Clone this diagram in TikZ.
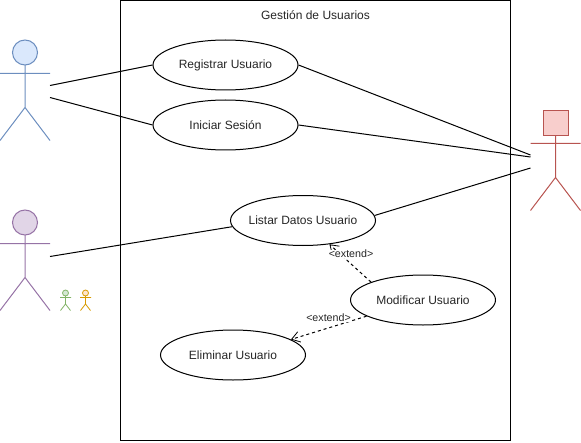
\documentclass[tikz,border=0pt]{standalone}
\usepackage{fontspec}
\setmainfont{Liberation Sans}
\usetikzlibrary{shapes.geometric,arrows.meta}
\definecolor{bluef}{HTML}{DAE8FC}\definecolor{blued}{HTML}{6C8EBF}
\definecolor{purpf}{HTML}{E1D5E7}\definecolor{purpd}{HTML}{9673A6}
\definecolor{redf}{HTML}{F8CECC}\definecolor{redd}{HTML}{B85450}
\definecolor{grnf}{HTML}{D5E8D4}\definecolor{grnd}{HTML}{82B366}
\definecolor{orgf}{HTML}{FFE6CC}\definecolor{orgd}{HTML}{D79B00}
\newcommand{\uctext}[1]{\makebox[0pt][c]{#1}}
\tikzset{
  x=0.75pt,y=-0.75pt,
  usecase/.style={draw=black,fill=white,ellipse,line width=0.75pt,minimum width=108.75pt,minimum height=37.5pt,inner sep=0pt,font=\fontsize{9}{11}\selectfont,text=black!85},
  assoc/.style={draw=black,line width=0.75pt},
  ext/.style={draw=black,line width=0.75pt,dash pattern=on 2.25pt off 2.25pt,-{Straight Barb[length=6pt,width=8pt,line width=0.6pt]}},
  extlabel/.style={fill=white,inner sep=0.4pt,font=\fontsize{8}{9}\selectfont,text=black!85},
  limb/.style={line width=0.75pt}
}
\begin{document}
\begin{tikzpicture}
\useasboundingbox (0,0) rectangle (581,442);
\node[draw=black,line width=0.75pt,minimum width=292.5pt,minimum height=330pt,inner sep=0pt] (sys) at (315.5,220.5) {};
\node[font=\fontsize{9}{11}\selectfont,text=black!85] (title) at (315.5,15) {Gestión de Usuarios};
% actors
\draw[limb,draw=blued,fill=bluef] (25,52.5) circle[radius=12.5];
\draw[limb,draw=blued] (25,65)--(25,107.5) (0,73.5)--(50,73.5) (0,140.5)--(25,107.5)--(50,140.5);
\draw[limb,draw=purpd,fill=purpf] (25,222.5) circle[radius=12.5];
\draw[limb,draw=purpd] (25,235)--(25,277.5) (0,243.5)--(50,243.5) (0,310.5)--(25,277.5)--(50,310.5);
\draw[limb,draw=redd,fill=redf] (543,110.5) rectangle (568,135.5);
\draw[limb,draw=redd] (555.5,135.5)--(555.5,177.5) (530.5,143.5)--(580.5,143.5) (530.5,210.5)--(555.5,177.5)--(580.5,210.5);
\draw[line width=0.6pt,draw=grnd,fill=grnf] (65.5,293) circle[radius=3];
\draw[line width=0.6pt,draw=grnd] (65.5,296)--(65.5,304) (60,297.5)--(71,297.5) (60.5,310.5)--(65.5,304)--(70.5,310.5);
\draw[line width=0.6pt,draw=orgd,fill=orgf] (85.5,293) circle[radius=3];
\draw[line width=0.6pt,draw=orgd] (85.5,296)--(85.5,304) (80,297.5)--(91,297.5) (80.5,310.5)--(85.5,304)--(90.5,310.5);
% use cases
\node[usecase] (reg) at (225.5,65) {\uctext{Registrar Usuario}};
\node[usecase] (ini) at (225.5,125) {\uctext{Iniciar Sesión}};
\node[usecase] (lis) at (303,220.5) {\uctext{Listar Datos Usuario}};
\node[usecase] (mod) at (423,300) {\uctext{Modificar Usuario}};
\node[usecase] (eli) at (233,355) {\uctext{Eliminar Usuario}};
% free ends
\coordinate (a1) at (50,85.5);
\coordinate (a2) at (50,97.5);
\coordinate (a3) at (50,256.5);
\coordinate (r1) at (530.5,155);
\coordinate (r2) at (530.5,157);
\coordinate (r3) at (530.5,168);
% connectors
\draw[assoc] (a1)--(reg.west);
\draw[assoc] (a2)--(ini.west);
\draw[assoc] (a3)--(lis.185);
\draw[assoc] (reg.east)--(r1);
\draw[assoc] (ini.east)--(r2);
\draw[assoc] (lis.4)--(r3);
\draw[ext] (mod.161)--(lis.-42);
\draw[ext] (mod.196)--(eli.15);
\node[extlabel] (e1) at (351,254) {<extend>};
\node[extlabel] (e2) at (328.5,318) {<extend>};
\end{tikzpicture}
\end{document}
